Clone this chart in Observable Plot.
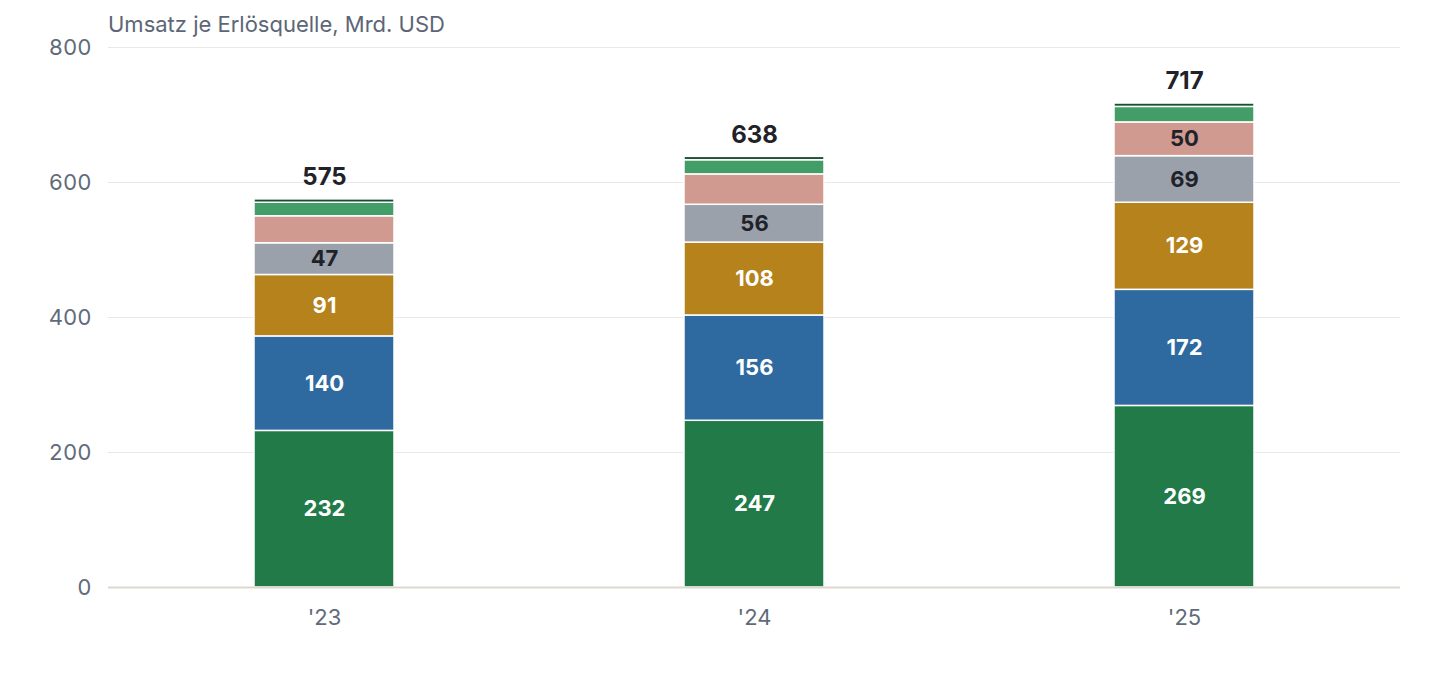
<!DOCTYPE html>
<html>
<head>
<meta charset="utf-8">
<script src="https://cdn.jsdelivr.net/npm/d3@7"></script>
<script src="https://cdn.jsdelivr.net/npm/@observablehq/plot@0.6"></script>
<style>
  html, body { margin: 0; padding: 0; background: #fff; }
  body { font-family: Inter, "Noto Sans", sans-serif; width: 1440px; height: 680px; overflow: hidden; }
  #title { height: 34px; box-sizing: border-box; padding: 12px 0 0 108px; font-size: 22px; line-height: 24px; color: #5c6677; white-space: nowrap; }
  #chart svg { overflow: visible; display: block; }
</style>
</head>
<body>
<div id="title">Umsatz je Erlösquelle, Mrd. USD</div>
<div id="chart"></div>
<script>
const years = ["'23", "'24", "'25"];
const sources = ["Online-Shops", "Drittanbieter-Services", "AWS", "Werbung", "Abonnements", "Physische Läden", "Sonstige"];
const onlineShops   = [232, 247, 269];
const drittanbieter = [140, 156, 172];
const aws           = [91, 108, 129];
const werbung       = [47, 56, 69];
const abonnements   = [40, 45, 50];
const physisch      = [20, 21, 23];
const sonstige      = [5, 5, 5];
const yTicks = [0, 200, 400, 600, 800];

const series = [onlineShops, drittanbieter, aws, werbung, abonnements, physisch, sonstige];
const colors = ["#217a48", "#2e6aa0", "#b5821c", "#9aa1ab", "#d09a91", "#439d66", "#184f30"];
const labelColors = ["#ffffff", "#ffffff", "#ffffff", "#1f2329", "#1f2329", "#1f2329", "#1f2329"];

const data = [];
years.forEach((year, i) => {
  sources.forEach((source, j) => {
    data.push({year, source, value: series[j][i]});
  });
});
const totals = years.map((year, i) => ({year, total: d3.sum(series, s => s[i])}));

const colorOf = Object.fromEntries(sources.map((s, j) => [s, colors[j]]));
const labelOf = Object.fromEntries(sources.map((s, j) => [s, labelColors[j]]));

const chart = Plot.plot({
  width: 1440,
  height: 646,
  marginLeft: 108,
  marginRight: 40,
  marginTop: 13,
  marginBottom: 93,
  style: { fontFamily: "Inter, 'Noto Sans', sans-serif", overflow: "visible" },
  x: { domain: years, paddingInner: 0.675, paddingOuter: 0.3375, label: null },
  y: { domain: [0, 800], label: null },
  marks: [
    Plot.gridY(yTicks, { stroke: "#e8e8e8", strokeOpacity: 1, strokeWidth: 1 }),
    Plot.axisY(yTicks, { tickSize: 0, tickPadding: 17, fontSize: 22, fill: "#5f6b7a", label: null }),
    Plot.axisX({ tickSize: 0, tickPadding: 22, fontSize: 22, fill: "#5f6b7a", label: null }),
    Plot.barY(data, {
      x: "year", y: "value", fill: d => colorOf[d.source],
      order: sources, stroke: "#ffffff", strokeWidth: 1.5
    }),
    Plot.ruleY([0], { stroke: "#dcd9cc", strokeWidth: 2 }),
    Plot.text(data, Plot.stackY({
      x: "year", y: "value", order: sources,
      text: d => d.value >= 46 ? String(d.value) : "",
      fill: d => labelOf[d.source],
      fontSize: 22, fontWeight: 700
    })),
    Plot.text(totals, {
      x: "year", y: "total", text: d => String(d.total),
      dy: -22, fontSize: 24, fontWeight: 700, fill: "#1f2329"
    })
  ]
});
document.getElementById("chart").appendChild(chart);
</script>
</body>
</html>
